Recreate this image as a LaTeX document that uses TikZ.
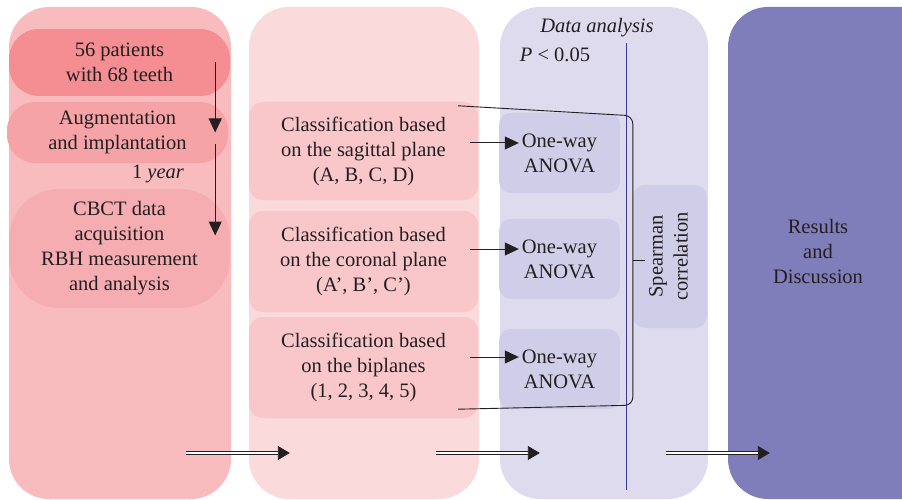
\documentclass[tikz,border=0pt]{standalone}
\usepackage{fontspec}
\setmainfont{Liberation Serif}
\usetikzlibrary{arrows.meta}
\definecolor{ink}{HTML}{231F20}
\definecolor{stageA}{HTML}{F8BCBF}
\definecolor{stageB}{HTML}{FADADB}
\definecolor{stageC}{HTML}{DEDBEE}
\definecolor{stageD}{HTML}{7F7EBA}
\definecolor{patfill}{HTML}{F48E92}
\definecolor{augfill}{HTML}{F5A3A6}
\definecolor{cbctfill}{HTML}{F5ADB1}
\definecolor{classfill}{HTML}{F9C7C9}
\definecolor{testfill}{HTML}{CFCDE7}
\definecolor{divline}{HTML}{3A3A9A}
\newcommand\txtsize{\fontsize{20.5}{25}\selectfont}

\tikzset{
  panel/.style = {rounded corners=40pt, inner sep=0pt},
  pill/.style = {inner sep=0pt, align=center, font=\txtsize, text=ink},
  flow/.style = {-{Triangle[length=14pt,width=13pt]}, line width=1pt, draw=ink},
  dbl/.style = {double, double distance=2.6pt, line width=0.9pt, draw=ink,
                -{Triangle[length=12pt,width=14pt]}},
}

\begin{document}
\begin{tikzpicture}[x=1pt, y=-1pt]
\clip (0,0) rectangle (902,500);
% the four stages
\node[panel, fill=stageA, minimum width=222pt, minimum height=492pt] (stage1) at (120,253) {};
\node[panel, fill=stageB, minimum width=230pt, minimum height=492pt] (stage2) at (364,253) {};
\node[panel, fill=stageC, minimum width=208pt, minimum height=492pt] (stage3) at (604,253) {};
\node[panel, fill=stageD, minimum width=232pt, minimum height=492pt] (stage4) at (844,253) {};

% stage 1
\node[pill, fill=patfill, rounded corners=30pt, minimum width=221pt, minimum height=67pt] (patients) at (119.5,62.5) {56 patients\\with 68 teeth};
\node[pill, fill=augfill, rounded corners=28pt, minimum width=221pt, minimum height=61pt] (augment) at (117.5,132.5) {Augmentation\\and implantation};
\node[pill, fill=cbctfill, rounded corners=50pt, minimum width=221pt, minimum height=119pt] (cbct) at (119.5,248.5) {CBCT data\\acquisition\\RBH measurement\\and analysis};
\node[pill] (year) at (158,174) {1 \textit{year}};
\draw[flow] ([xshift=-15pt]patients.east) -- ([xshift=-13pt]augment.east);
\draw[flow] ([xshift=-13pt,yshift=-12pt]augment.east) -- ([xshift=-15pt,yshift=13pt]cbct.east);

% stage 2
\node[pill, fill=classfill, rounded corners=14pt, minimum width=229pt, minimum height=98pt] (class1) at (363.5,151) {Classification based\\on the sagittal plane\\(A, B, C, D)};
\node[pill, fill=classfill, rounded corners=14pt, minimum width=229pt, minimum height=101pt] (class2) at (363.5,261.5) {Classification based\\on the coronal plane\\(A’, B’, C’)};
\node[pill, fill=classfill, rounded corners=14pt, minimum width=229pt, minimum height=101pt] (class3) at (363.5,367.5) {Classification based\\on the biplanes\\(1, 2, 3, 4, 5)};

% stage 3
\node[pill] (analysis) at (597,28) {\textit{Data analysis}};
\node[pill] (pvalue) at (555,55) {\textit{P} < 0.05};
\node[pill, fill=testfill, rounded corners=12pt, minimum width=121pt, minimum height=80pt] (anova1) at (559.5,153) {One-way\\ANOVA};
\node[pill, fill=testfill, rounded corners=12pt, minimum width=121pt, minimum height=80pt] (anova2) at (559.5,259) {One-way\\ANOVA};
\node[pill, fill=testfill, rounded corners=12pt, minimum width=121pt, minimum height=80pt] (anova3) at (559.5,369) {One-way\\ANOVA};
\node[pill, fill=testfill, rounded corners=12pt, minimum width=74pt, minimum height=143pt] (spear) at (670,256.5) {\rotatebox{90}{\begin{tabular}{@{}c@{}}Spearman\\correlation\end{tabular}}};
\draw[divline, line width=0.8pt] (626,43) -- (626,490);
\draw[flow] ([xshift=-8pt,yshift=10pt]class1.east |- anova1.west) -- ([xshift=20pt,yshift=10pt]anova1.west);
\draw[flow] ([xshift=-8pt,yshift=10pt]class2.east |- anova2.west) -- ([xshift=20pt,yshift=10pt]anova2.west);
\draw[flow] ([xshift=-8pt,yshift=12pt]class3.east |- anova3.west) -- ([xshift=20pt,yshift=12pt]anova3.west);
\draw[ink, line width=0.9pt, rounded corners=8pt]
  ([xshift=-20pt,yshift=-4pt]class1.north east) -- ([yshift=-14pt]spear.west |- class1.north)
  -- ([yshift=13pt]spear.west |- class3.south) -- ([xshift=-20pt,yshift=9pt]class3.south east);
\draw[ink, line width=0.9pt] ([yshift=-4pt]spear.west) -- ++(12,0);

% stage 4
\node[pill] (results) at (818,251) {Results\\and\\Discussion};

% double arrows between stages
\draw[dbl] ([xshift=-45pt,yshift=-200pt]stage1.east) -- ([xshift=41pt,yshift=-200pt]stage2.west);
\draw[dbl] ([xshift=-43pt,yshift=-200pt]stage2.east) -- ([xshift=40pt,yshift=-200pt]stage3.west);
\draw[dbl] ([xshift=-42pt,yshift=-200pt]stage3.east) -- ([xshift=42pt,yshift=-200pt]stage4.west);
\end{tikzpicture}
\end{document}
